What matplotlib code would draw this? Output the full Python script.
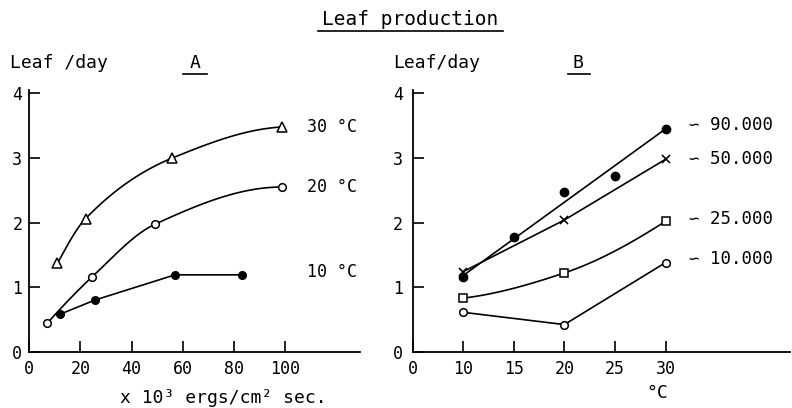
import numpy as np
import matplotlib
matplotlib.use("Agg")
import matplotlib.pyplot as plt
from matplotlib.lines import Line2D

# ---- panel A: leaf/day vs light intensity (x10^3 ergs/cm2 sec) ----
a30_x = [11, 22, 56, 99]
a30_y = [1.37, 2.06, 3.0, 3.48]
a20_x = [7, 24.6, 49, 98.7]
a20_y = [0.44, 1.16, 1.97, 2.55]
a10_x = [12, 25.7, 57, 83.4]
a10_y = [0.58, 0.80, 1.19, 1.19]
a_labels = ["30 °C", "20 °C", "10 °C"]
a_label_y = [3.48, 2.55, 1.24]

# ---- panel B: leaf/day vs temperature (°C) ----
b90_x = [10, 15, 20, 25, 30]
b90_y = [1.15, 1.77, 2.48, 2.72, 3.45]
b90_fit_x = [10, 30]
b90_fit_y = [1.18, 3.45]
b50_x = [10, 20, 30]
b50_y = [1.24, 2.04, 2.98]
b25_x = [10, 20, 30]
b25_y = [0.83, 1.22, 2.02]
b10_x = [10, 20, 30]
b10_y = [0.61, 0.42, 1.38]
b_labels = ["∽ 90.000", "∽ 50.000", "∽ 25.000", "∽ 10.000"]
b_label_y = [3.51, 2.99, 2.06, 1.43]


def smooth(xs, ys, n=60):
    # monotone cubic (Fritsch-Carlson) through the points, like a french curve
    x = np.asarray(xs, float)
    y = np.asarray(ys, float)
    h = np.diff(x)
    d = np.diff(y) / h
    m = np.zeros_like(x)
    m[0], m[-1] = d[0], d[-1]
    for i in range(1, len(x) - 1):
        if d[i - 1] * d[i] > 0:
            w1 = 2 * h[i] + h[i - 1]
            w2 = h[i] + 2 * h[i - 1]
            m[i] = (w1 + w2) / (w1 / d[i - 1] + w2 / d[i])
    # end slopes: three-point estimate
    if len(x) > 2:
        m[0] = ((2 * h[0] + h[1]) * d[0] - h[0] * d[1]) / (h[0] + h[1])
        m[-1] = ((2 * h[-1] + h[-2]) * d[-1] - h[-1] * d[-2]) / (h[-1] + h[-2])
        if np.sign(m[0]) != np.sign(d[0]):
            m[0] = 0
        if np.sign(m[-1]) != np.sign(d[-1]):
            m[-1] = 0
    ox, oy = [], []
    for i in range(len(x) - 1):
        t = np.linspace(0, 1, n)
        h00 = 2 * t**3 - 3 * t**2 + 1
        h10 = t**3 - 2 * t**2 + t
        h01 = -2 * t**3 + 3 * t**2
        h11 = t**3 - t**2
        ox.append(x[i] + t * h[i])
        oy.append(h00 * y[i] + h10 * h[i] * m[i] + h01 * y[i + 1] + h11 * h[i] * m[i + 1])
    return np.concatenate(ox), np.concatenate(oy)


plt.rcParams["font.family"] = ["DejaVu Sans Mono", "DejaVu Sans"]
fig = plt.figure(figsize=(7.92, 4.08), dpi=100)

axA = fig.add_axes([0.037, 0.138, 0.4175, 0.641])
axB = fig.add_axes([0.521, 0.138, 0.4765, 0.641])

lw = 1.2
k = "black"
ms = 5.5

# panel A curves
for xs, ys, mk in [(a30_x, a30_y, "^"), (a20_x, a20_y, "o")]:
    sx, sy = smooth(xs, ys)
    axA.plot(sx, sy, color=k, lw=lw, zorder=2)
    axA.plot(xs, ys, ls="none", marker=mk, ms=ms + 1.5 if mk == "^" else ms,
             mfc="white", mec=k, mew=1.1, zorder=3)
axA.plot(a10_x, a10_y, color=k, lw=lw, marker="o", ms=ms, mfc=k, mec=k, zorder=3)

for lab, ly in zip(a_labels, a_label_y):
    axA.text(108.5, ly, lab, fontsize=12, va="center", ha="left")

axA.set_xlim(0, 129.4)
axA.set_ylim(0, 4.05)
axA.set_xticks([0, 20, 40, 60, 80, 100])
axA.set_yticks([0, 1, 2, 3, 4])

# panel B lines
axB.plot(b90_fit_x, b90_fit_y, color=k, lw=lw, zorder=2)
axB.plot(b90_x, b90_y, ls="none", marker="o", ms=ms + 0.5, mfc=k, mec=k, zorder=3)
axB.plot(b50_x, b50_y, color=k, lw=lw, zorder=2)
axB.plot(b50_x, b50_y, ls="none", marker="x", ms=ms, mec=k, mew=1.2, zorder=3)
sx, sy = smooth(b25_x, b25_y)
axB.plot(sx, sy, color=k, lw=lw, zorder=2)
axB.plot(b25_x, b25_y, ls="none", marker="s", ms=ms, mfc="white", mec=k, mew=1.1, zorder=3)
axB.plot(b10_x, b10_y, color=k, lw=lw, zorder=2)
axB.plot(b10_x, b10_y, ls="none", marker="o", ms=ms, mfc="white", mec=k, mew=1.1, zorder=3)

for lab, ly in zip(b_labels, b_label_y):
    axB.text(32.3, ly, lab, fontsize=12.5, va="center", ha="left")

axB.set_xlim(5, 42.3)
axB.set_ylim(0, 4.05)
axB.set_xticks([5, 10, 15, 20, 25, 30])
axB.set_xticklabels(["0", "10", "15", "20", "25", "30"])
axB.set_yticks([0, 1, 2, 3, 4])

for ax, ypad in [(axA, 5), (axB, 7)]:
    for s in ["top", "right"]:
        ax.spines[s].set_visible(False)
    for s in ["left", "bottom"]:
        ax.spines[s].set_linewidth(1.3)
    ax.tick_params(axis="both", direction="in", length=8, width=1.2,
                   labelsize=12)
    ax.tick_params(axis="x", pad=6)
    ax.tick_params(axis="y", pad=ypad)

# headings and axis labels
fig.text(0.518, 0.951, "Leaf production", fontsize=14, ha="center", va="center")
fig.add_artist(Line2D([0.402, 0.635], [0.924, 0.924], color=k, lw=1.2))

fig.text(0.0126, 0.846, "Leaf /day", fontsize=13, ha="left", va="center")
fig.text(0.246, 0.846, "A", fontsize=13, ha="center", va="center")
fig.add_artist(Line2D([0.231, 0.261], [0.819, 0.819], color=k, lw=1.2))

fig.text(0.496, 0.846, "Leaf/day", fontsize=13, ha="left", va="center")
fig.text(0.730, 0.846, "B", fontsize=13, ha="center", va="center")
fig.add_artist(Line2D([0.717, 0.745], [0.819, 0.819], color=k, lw=1.2))

fig.text(0.282, 0.025, "x 10³ ergs/cm² sec.", fontsize=13, ha="center", va="center")
fig.text(0.830, 0.037, "°C", fontsize=13, ha="center", va="center")

fig.savefig("out.png", dpi=100, facecolor="white")
